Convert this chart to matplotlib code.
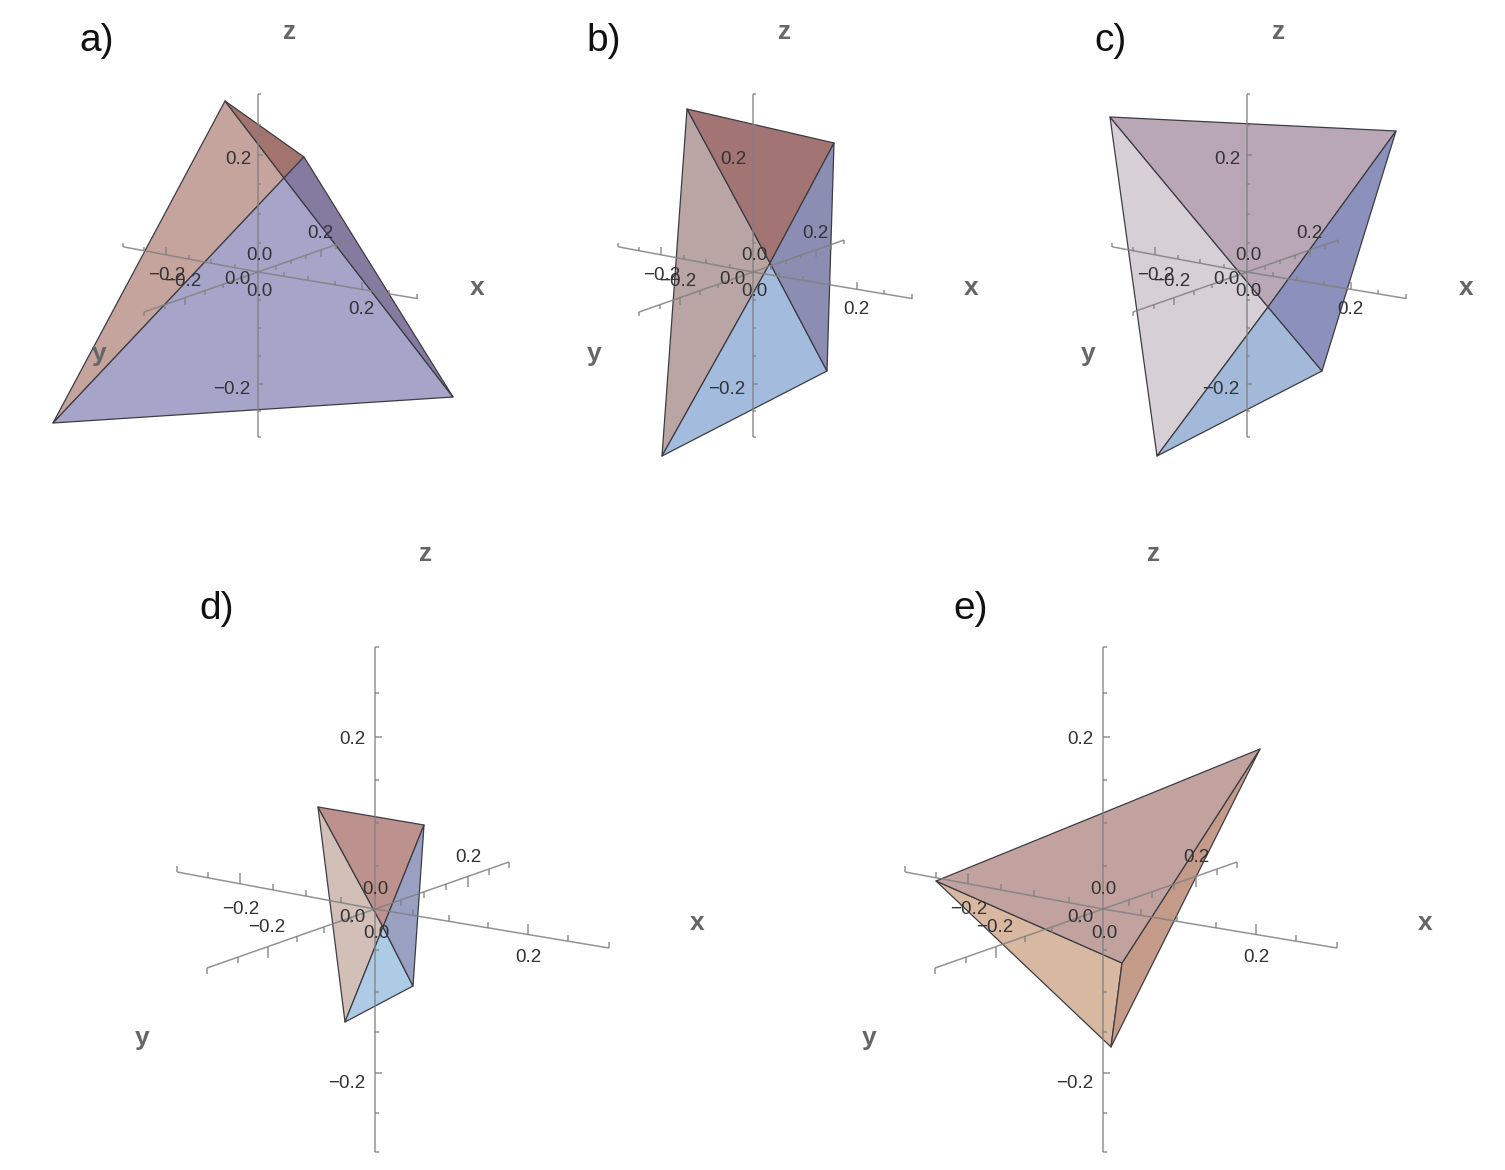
#!/usr/bin/env python3
"""
Five tetrahedra drawn over 3D axes, as seen in projection (pixel coordinates)
"""

import numpy as np
import matplotlib
matplotlib.use('Agg')
import matplotlib.pyplot as plt

plt.rcParams['font.family'] = ['Liberation Sans', 'DejaVu Sans']

# Projected tick positions of the big axes, measured from the origin.
x_ticks_dx = [-198, -167, -135, -102, -69, -34, 0, 38, 74, 113, 153, 193, 234]
y_ticks_dx = [-168, -137, -107, -78, -51, -24, 0, 26, 49, 71, 93, 114, 134]
z_ticks_dy = [-262, -216, -172, -129, -86, -43, 0, 41, 83, 123, 164, 204, 243]
x_end_dy = [-37, 39]
y_end_dy = [59, -47]
major_ticks = [2, 10]

# vertices: outer corners and the inner crossing point
verts_a = dict(A=(225, 101), B=(304, 157), C=(53, 423), D=(453, 397), E=(284, 178))
verts_b = dict(A=(687, 109), B=(834, 143), C=(662, 456), D=(827, 371), E=(770, 263))
verts_c = dict(A=(1110, 117), B=(1396, 131), C=(1157, 456), D=(1322, 371), E=(1268, 307))
verts_d = dict(A=(318, 807), B=(424, 825), C=(345, 1022), D=(413, 986), E=(383, 927))
verts_e = dict(A=(936, 881), B=(1260, 749), C=(1111, 1047), E=(1122, 963))

faces_a = [('AEC', '#c4a49c'), ('ABE', '#a3736d'), ('CED', '#a6a5c9'), ('EBD', '#857aa0')]
faces_b = [('AEC', '#baa5a5'), ('ABE', '#a27474'), ('CED', '#a3bbdd'), ('EBD', '#8b8db2')]
faces_c = [('AEC', '#d6d0d6'), ('ABE', '#baa7b5'), ('CED', '#a2b9da'), ('EBD', '#8b90bc')]
faces_d = [('AEC', '#d1bfb8'), ('ABE', '#bd918d'), ('CED', '#aecbe6'), ('EBD', '#99a0c2')]
faces_e = [('AEC', '#d8b8a0'), ('EBC', '#c49a88'), ('ABE', '#c2a29f')]

# tick label text and offset from the origin, small and large panels
tick_labels = ['0.2', '\u22120.2', '0.0', '0.0', '0.0', '\u22120.2', '\u22120.2', '0.2', '0.2']
small_dx = [-20, -26, 1, -21, 1, -91, -75, 62, 103]
small_dy = [-115, 116, -18, 5, 18, 2, 8, -41, 35]
large_dx = [-23, -28, 0, -23, 1, -134, -108, 93, 153]
large_dy = [-171, 172, -21, 6, 22, -2, 17, -54, 47]

axis_color = '#808080'
text_color = '#333333'
label_color = '#666666'

fig = plt.figure(figsize=(15.05, 11.7), dpi=100)
ax = fig.add_axes([0, 0, 1, 1])
ax.set_xlim(0, 1505)
ax.set_ylim(1170, 0)
ax.axis('off')


def axis_line(xs, ys):
    ax.plot(xs, ys, color=axis_color, lw=1.1, alpha=0.85, zorder=5, solid_capstyle='butt')


def draw_axes(ox, oy, scale):
    # x axis, ticks point up
    xs = np.array(x_ticks_dx)
    ys = np.interp(xs, [x_ticks_dx[0], 0, x_ticks_dx[-1]], [x_end_dy[0], 0, x_end_dy[1]])
    axis_line(ox + xs * scale, oy + ys * scale)
    for i, (tx, ty) in enumerate(zip(xs, ys)):
        if tx == 0:
            continue
        length = 11 if i in major_ticks else 6
        axis_line([ox + tx * scale] * 2, [oy + ty * scale, oy + (ty - length) * scale])

    # y axis, ticks point down
    xs = np.array(y_ticks_dx)
    ys = np.interp(xs, [y_ticks_dx[0], 0, y_ticks_dx[-1]], [y_end_dy[0], 0, y_end_dy[1]])
    axis_line(ox + xs * scale, oy + ys * scale)
    for i, (tx, ty) in enumerate(zip(xs, ys)):
        if tx == 0:
            continue
        length = 11 if i in major_ticks else 6
        axis_line([ox + tx * scale] * 2, [oy + ty * scale, oy + (ty + length) * scale])

    # z axis, ticks point right
    zs = np.array(z_ticks_dy)
    axis_line([ox, ox], oy + zs[[0, -1]] * scale)
    for i, tz in enumerate(zs):
        if tz == 0:
            continue
        length = 7 if i in major_ticks else 4
        axis_line([ox, ox + length * scale], [oy + tz * scale] * 2)


def draw_faces(verts, faces):
    for names, color in faces:
        pts = [verts[n] for n in names]
        ax.fill([p[0] for p in pts], [p[1] for p in pts], facecolor=color,
                edgecolor='#3c3c44', linewidth=0.9, joinstyle='round', zorder=2)


def draw_panel(letter, letter_xy, origin, scale, dx, dy, verts, faces, z_xy, x_xy, y_xy):
    draw_faces(verts, faces)
    draw_axes(origin[0], origin[1], scale)
    for label, tx, ty in zip(tick_labels, dx, dy):
        ax.text(origin[0] + tx, origin[1] + ty + 2, label, fontsize=13.5, color=text_color,
                ha='center', va='center', zorder=7)
    ax.text(letter_xy[0], letter_xy[1] + 2, letter, fontsize=28, color='#111111',
            ha='left', va='center', zorder=8)
    for name, xy in zip('zxy', (z_xy, x_xy, y_xy)):
        ax.text(xy[0], xy[1] + 1, name, fontsize=19, fontweight='bold', color=label_color,
                ha='center', va='center', zorder=8)


draw_panel('a)', (79, 39), (258, 272), 0.68, small_dx, small_dy, verts_a, faces_a,
           (290, 31), (477, 287), (99, 353))
draw_panel('b)', (586, 39), (753, 272), 0.68, small_dx, small_dy, verts_b, faces_b,
           (785, 31), (971, 287), (594, 353))
draw_panel('c)', (1094, 39), (1247, 272), 0.68, small_dx, small_dy, verts_c, faces_c,
           (1279, 31), (1466, 287), (1088, 353))
draw_panel('d)', (199, 607), (375, 909), 1.0, large_dx, large_dy, verts_d, faces_d,
           (426, 553), (697, 922), (142, 1037))
draw_panel('e)', (953, 607), (1103, 909), 1.0, large_dx, large_dy, verts_e, faces_e,
           (1154, 553), (1425, 922), (869, 1037))

plt.savefig('out.png', dpi=100)
plt.close()
